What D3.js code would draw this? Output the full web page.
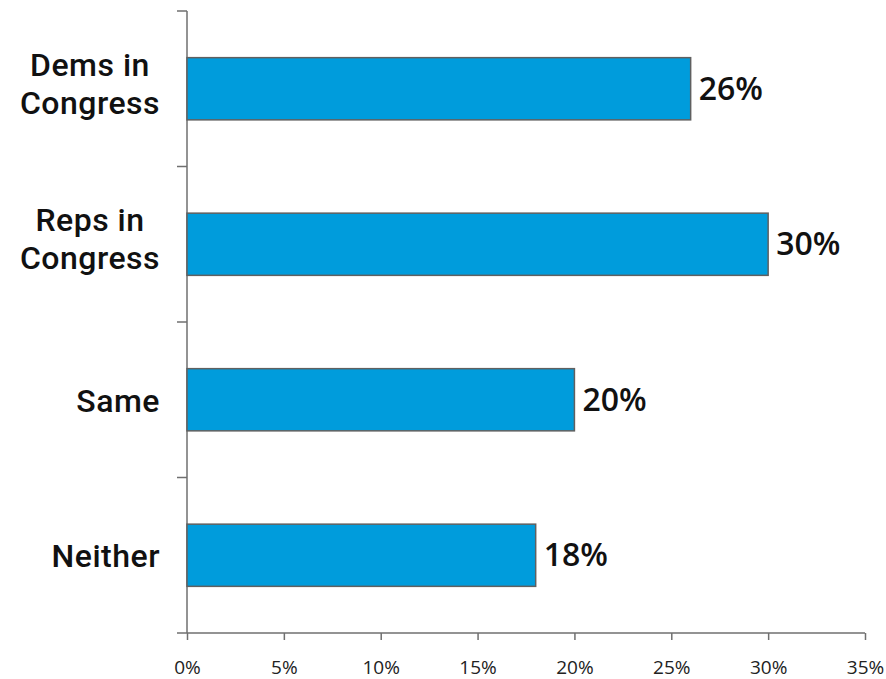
<!DOCTYPE html>
<html>
<head>
<meta charset="utf-8">
<script src="https://cdn.jsdelivr.net/npm/d3@7"></script>
<style>
  body { margin: 0; background: #fff; }
  svg { display: block; }
</style>
</head>
<body>
<svg id="chart" width="886" height="679"></svg>
<script>
// Which party is to blame — share of respondents
const categories = [["Dems in", "Congress"], ["Reps in", "Congress"], ["Same"], ["Neither"]];
const values = [26, 30, 20, 18];
const xTicks = [0, 5, 10, 15, 20, 25, 30, 35];

const svg = d3.select("#chart");
const margin = { left: 187, right: 21, top: 11, bottom: 46 };
const W = 886, H = 679;

const x = d3.scaleLinear().domain([0, 35]).range([margin.left, W - margin.right]);
const y = d3.scaleBand()
  .domain(d3.range(categories.length))
  .range([margin.top, H - margin.bottom])
  .paddingInner(0.6)
  .paddingOuter(0.3);

const axisColor = "#6f6f6f";
const labelFont = "'Open Sans', sans-serif";
const catFont = "Roboto, sans-serif";

// x axis
const xAxis = d3.axisBottom(x)
  .tickValues(xTicks)
  .tickFormat(d => d + "%")
  .tickSizeInner(7)
  .tickSizeOuter(0);
const gx = svg.append("g")
  .attr("transform", `translate(0,${H - margin.bottom})`)
  .call(xAxis);
gx.select(".domain").remove();
gx.append("line")
  .attr("x1", margin.left - 10).attr("x2", W - margin.right)
  .attr("stroke", axisColor).attr("stroke-width", 1.5);
gx.selectAll(".tick line").attr("stroke", axisColor).attr("stroke-width", 1.5);
gx.selectAll(".tick text")
  .attr("y", 41)
  .attr("dy", 0)
  .attr("fill", "#222")
  .style("font-family", labelFont)
  .style("font-size", "19px");

// y axis: boundary ticks between categories
const step = y.step();
const yBounds = d3.range(categories.length + 1).map(i => margin.top + i * step);
svg.append("line")
  .attr("x1", margin.left).attr("x2", margin.left)
  .attr("y1", margin.top).attr("y2", H - margin.bottom)
  .attr("stroke", axisColor).attr("stroke-width", 1.5);
svg.selectAll(".ytick")
  .data(yBounds.slice(0, -1))
  .join("line")
  .attr("class", "ytick")
  .attr("x1", margin.left - 10).attr("x2", margin.left)
  .attr("y1", d => d).attr("y2", d => d)
  .attr("stroke", axisColor).attr("stroke-width", 1.5);

// bars
svg.selectAll(".bar")
  .data(values)
  .join("rect")
  .attr("class", "bar")
  .attr("x", x(0))
  .attr("y", (d, i) => y(i))
  .attr("width", d => x(d) - x(0))
  .attr("height", y.bandwidth())
  .attr("fill", "#009cdc")
  .attr("stroke", "#606060")
  .attr("stroke-width", 1.5);

// value labels
svg.selectAll(".val")
  .data(values)
  .join("text")
  .attr("class", "val")
  .attr("x", d => x(d) + 8)
  .attr("y", (d, i) => y(i) + y.bandwidth() / 2 + 11)
  .attr("fill", "#111")
  .style("font-family", labelFont)
  .style("font-weight", 600)
  .style("font-size", "32px")
  .text(d => d + "%");

// category labels: one text per category, lines as tspans, centered as a
// block whose right edge sits just left of the axis
const labelRight = 160, lineH = 38;
categories.forEach((lines, i) => {
  const cy = y(i) + y.bandwidth() / 2;
  const n = lines.length;
  const text = svg.append("text")
    .attr("text-anchor", "middle")
    .attr("fill", "#111")
    .style("font-family", catFont)
    .style("font-weight", 500)
    .style("font-size", "32px")
    .style("letter-spacing", "0.5px");
  const spans = lines.map((ln, j) => text.append("tspan")
    .attr("y", cy + 12 + (j - (n - 1) / 2) * lineH - 6 * (n - 1))
    .text(ln));
  const maxW = d3.max(spans, s => s.node().getComputedTextLength());
  spans.forEach(s => s.attr("x", labelRight - maxW / 2));
});
</script>
</body>
</html>
